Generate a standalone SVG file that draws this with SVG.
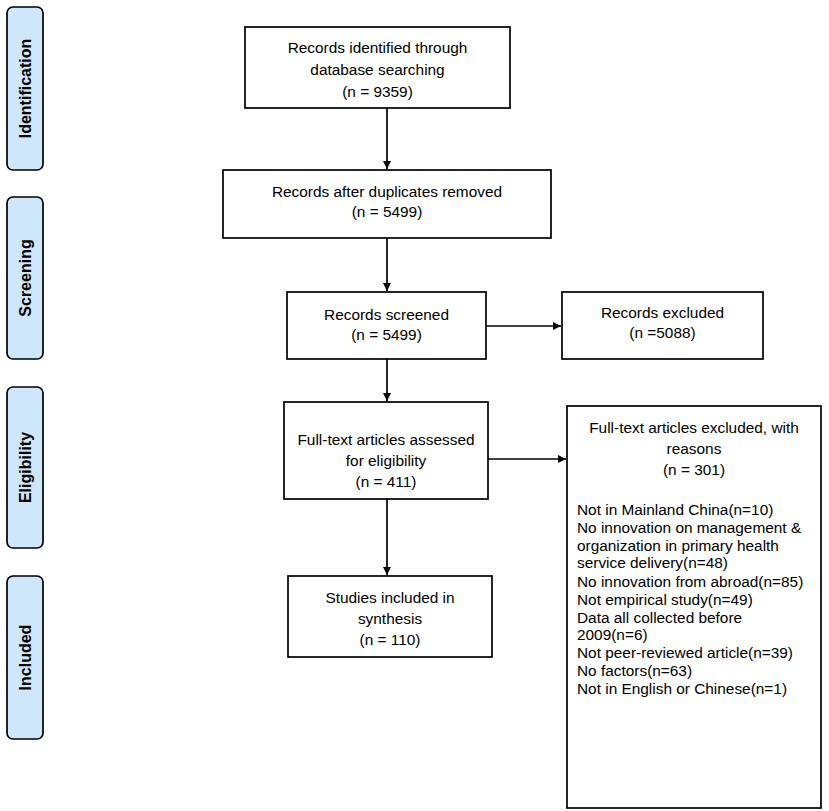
<svg xmlns="http://www.w3.org/2000/svg" width="829" height="811" viewBox="0 0 829 811">
<style>
.bg{fill:#ffffff}
.box{fill:#ffffff;stroke:#000000;stroke-width:1.7}
.phase{fill:#cfe7fa;stroke:#000000;stroke-width:1.7}
.t{font-family:"Liberation Sans",Arial,sans-serif;font-size:15.4px;fill:#000000;text-anchor:middle}
.tl{font-family:"Liberation Sans",Arial,sans-serif;font-size:15.4px;fill:#000000;text-anchor:start}
.p{font-family:"Liberation Sans",Arial,sans-serif;font-size:16px;font-weight:bold;fill:#000000;text-anchor:middle}
.c{fill:none;stroke:#000000;stroke-width:1.7}
</style>
<defs>
<marker id="ah" viewBox="0 0 10 10" refX="10" refY="5" markerWidth="8" markerHeight="8" markerUnits="userSpaceOnUse" orient="auto">
<path d="M0,0 L10,5 L0,10 z" fill="#000000"/>
</marker>
</defs>
<rect class="bg" x="0" y="0" width="829" height="811"/>

<g id="phase-identification">
<rect class="phase" x="7" y="7" width="36" height="163" rx="6"/>
<text class="p" transform="translate(31,88.5) rotate(-90)">Identification</text>
</g>
<g id="phase-screening">
<rect class="phase" x="7" y="197" width="36" height="162" rx="6"/>
<text class="p" transform="translate(31,278) rotate(-90)">Screening</text>
</g>
<g id="phase-eligibility">
<rect class="phase" x="7" y="387" width="36" height="161" rx="6"/>
<text class="p" transform="translate(31,467.5) rotate(-90)">Eligibility</text>
</g>
<g id="phase-included">
<rect class="phase" x="7" y="576" width="36" height="163" rx="6"/>
<text class="p" transform="translate(31,657.5) rotate(-90)">Included</text>
</g>

<g id="connectors">
<line class="c" x1="387" y1="108" x2="387" y2="169" marker-end="url(#ah)"/>
<line class="c" x1="387" y1="238" x2="387" y2="291" marker-end="url(#ah)"/>
<line class="c" x1="486" y1="326" x2="561" y2="326" marker-end="url(#ah)"/>
<line class="c" x1="387" y1="359" x2="387" y2="401" marker-end="url(#ah)"/>
<line class="c" x1="488" y1="459" x2="566" y2="459" marker-end="url(#ah)"/>
<line class="c" x1="387" y1="499" x2="387" y2="575" marker-end="url(#ah)"/>
</g>

<g id="records-identified">
<rect class="box" x="245" y="27" width="265" height="81"/>
<text class="t" x="377.5" y="53">Records identified through</text>
<text class="t" x="377.5" y="75">database searching</text>
<text class="t" x="377.5" y="97">(n = 9359)</text>
</g>
<g id="records-after-duplicates">
<rect class="box" x="223" y="170" width="328" height="68"/>
<text class="t" x="387" y="197">Records after duplicates removed</text>
<text class="t" x="387" y="217">(n = 5499)</text>
</g>
<g id="records-screened">
<rect class="box" x="287" y="292" width="199" height="67"/>
<text class="t" x="386.5" y="320">Records screened</text>
<text class="t" x="386.5" y="340">(n = 5499)</text>
</g>
<g id="records-excluded">
<rect class="box" x="562" y="292" width="201" height="67"/>
<text class="t" x="662.5" y="318">Records excluded</text>
<text class="t" x="662.5" y="338">(n =5088)</text>
</g>
<g id="full-text-assessed">
<rect class="box" x="284" y="402" width="204" height="97"/>
<text class="t" x="386" y="445">Full-text articles assessed</text>
<text class="t" x="386" y="466">for eligibility</text>
<text class="t" x="386" y="487">(n = 411)</text>
</g>
<g id="studies-included">
<rect class="box" x="288" y="576" width="204" height="81"/>
<text class="t" x="390" y="603">Studies included in</text>
<text class="t" x="390" y="624">synthesis</text>
<text class="t" x="390" y="645">(n = 110)</text>
</g>
<g id="full-text-excluded">
<rect class="box" x="567" y="406" width="254" height="402"/>
<text class="t" x="694" y="433">Full-text articles excluded, with</text>
<text class="t" x="694" y="454">reasons</text>
<text class="t" x="694" y="475">(n = 301)</text>
<text class="tl" x="577" y="515">Not in Mainland China(n=10)</text>
<text class="tl" x="577" y="533">No innovation on management &amp;</text>
<text class="tl" x="577" y="551">organization in primary health</text>
<text class="tl" x="577" y="568">service delivery(n=48)</text>
<text class="tl" x="577" y="587">No innovation from abroad(n=85)</text>
<text class="tl" x="577" y="605">Not empirical study(n=49)</text>
<text class="tl" x="577" y="623">Data all collected before</text>
<text class="tl" x="577" y="640">2009(n=6)</text>
<text class="tl" x="577" y="658">Not peer-reviewed article(n=39)</text>
<text class="tl" x="577" y="676">No factors(n=63)</text>
<text class="tl" x="577" y="694">Not in English or Chinese(n=1)</text>
</g>
</svg>
